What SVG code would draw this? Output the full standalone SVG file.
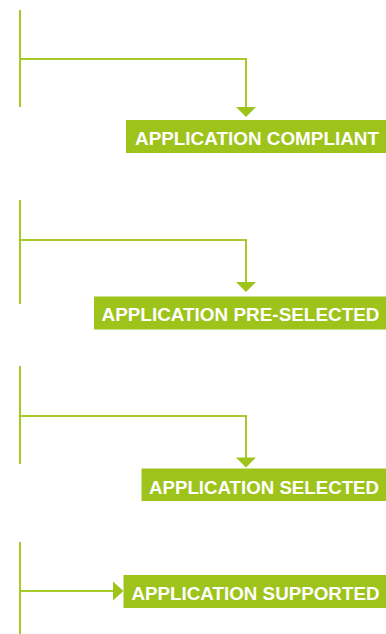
<svg xmlns="http://www.w3.org/2000/svg" width="386" height="634" viewBox="0 0 386 634">
<style>
.ln{fill:none;stroke:#a8c92a;stroke-width:2}
.ah{fill:#9ec31a}
.box{fill:#9ec31a}
.lbl{font-family:"Liberation Sans",Arial,sans-serif;font-weight:bold;font-size:18.6px;fill:#ffffff}
</style>
<g id="connectors">
<line class="ln" x1="20" y1="10" x2="20" y2="107"/>
<polyline class="ln" points="20,59 246,59 246,108"/>
<polygon class="ah" points="236,107 256,107 246,117"/>
<line class="ln" x1="20" y1="200" x2="20" y2="304"/>
<polyline class="ln" points="20,240 246,240 246,283"/>
<polygon class="ah" points="236,282 256,282 246,292"/>
<line class="ln" x1="20" y1="366" x2="20" y2="464"/>
<polyline class="ln" points="20,416 246,416 246,458"/>
<polygon class="ah" points="236,457.5 256,457.5 246,467.5"/>
<line class="ln" x1="20" y1="542" x2="20" y2="634"/>
<line class="ln" x1="20" y1="591" x2="114" y2="591"/>
<polygon class="ah" points="113,581.5 123.5,591 113,600.5"/>
</g>
<g id="node1">
<rect class="box" x="126" y="120" width="260" height="33"/>
<text class="lbl" x="135" y="145" textLength="244" lengthAdjust="spacingAndGlyphs">APPLICATION COMPLIANT</text>
</g>
<g id="node2">
<rect class="box" x="94" y="296.5" width="292" height="33"/>
<text class="lbl" x="101.5" y="321" textLength="278" lengthAdjust="spacingAndGlyphs">APPLICATION PRE-SELECTED</text>
</g>
<g id="node3">
<rect class="box" x="141.5" y="468.5" width="244.5" height="32.5"/>
<text class="lbl" x="149" y="493.5" textLength="230" lengthAdjust="spacingAndGlyphs">APPLICATION SELECTED</text>
</g>
<g id="node4">
<rect class="box" x="123.5" y="575" width="262.5" height="33"/>
<text class="lbl" x="131.5" y="599.5" textLength="248" lengthAdjust="spacingAndGlyphs">APPLICATION SUPPORTED</text>
</g>
</svg>
